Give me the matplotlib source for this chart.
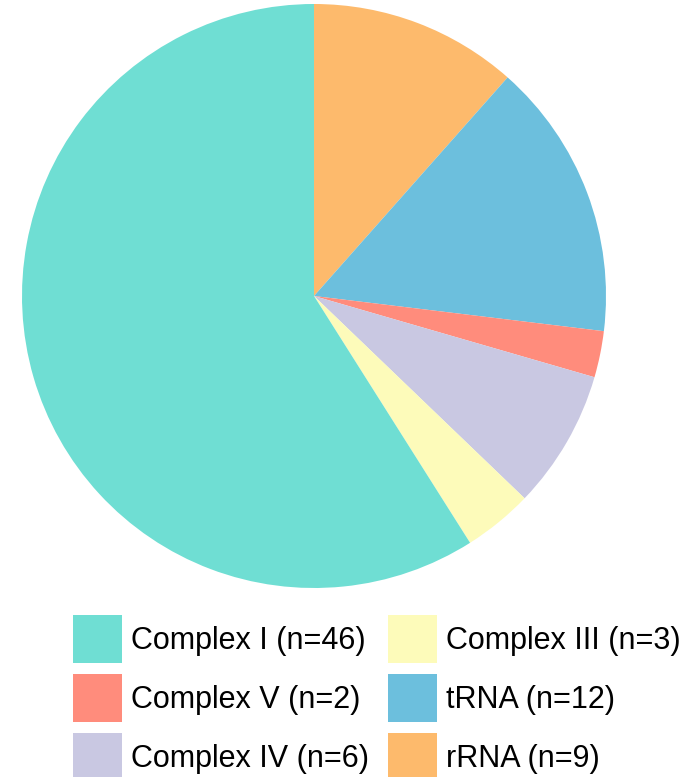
import matplotlib.pyplot as plt
from matplotlib.patches import Patch
from matplotlib import rcParams

rcParams['font.family'] = ['Liberation Sans', 'DejaVu Sans']

# pie order, clockwise from 12 o'clock
groups = ['rRNA', 'tRNA', 'Complex V', 'Complex IV', 'Complex III', 'Complex I']
counts = [9, 12, 2, 6, 3, 46]
colors = ['#FDBA6C', '#6CBFDD', '#FF8C7C', '#C9C8E2', '#FDFBBA', '#6FDED3']

# legend order (column-major, two columns)
legend_order = ['Complex I', 'Complex V', 'Complex IV',
                'Complex III', 'tRNA', 'rRNA']

fig = plt.figure(figsize=(6.96, 7.77), dpi=100)
ax = fig.add_axes([22/696, 1-588/777, 584/696, 584/777])
ax.pie(counts, colors=colors, startangle=90, counterclock=False,
       radius=1.0, wedgeprops=dict(linewidth=0))
ax.set_xlim(-1, 1)
ax.set_ylim(-1, 1)
ax.set_aspect('equal')
ax.axis('off')

cmap = dict(zip(groups, colors))
nmap = dict(zip(groups, counts))
handles = [Patch(facecolor=cmap[g], edgecolor='none',
                 label='%s (n=%d)' % (g, nmap[g])) for g in legend_order]
fig.legend(handles=handles, ncol=2, frameon=False,
           loc='upper left', bbox_to_anchor=(73/696, 1-615/777),
           borderpad=0, borderaxespad=0, fontsize=22,
           handlelength=1.6, handleheight=2.04, handletextpad=0.3,
           labelspacing=0.36, columnspacing=0.62)

fig.savefig('out.png', dpi=100)
